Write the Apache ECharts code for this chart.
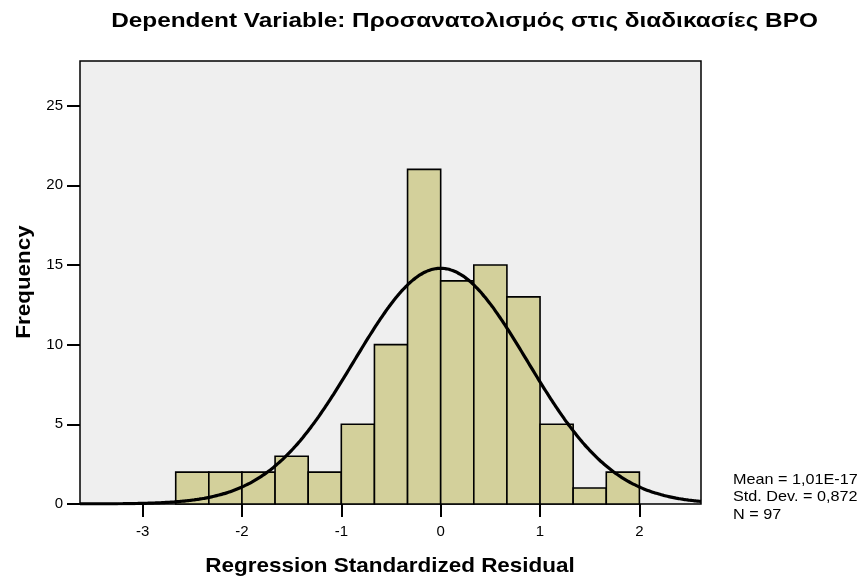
<!DOCTYPE html>
<html>
<head>
<meta charset="utf-8">
<script src="https://cdn.jsdelivr.net/npm/echarts@6/dist/echarts.min.js"></script>
<style>
  html, body { margin: 0; padding: 0; background: #fff; }
  #chart { width: 859px; height: 583px; }
</style>
</head>
<body>
<div id="chart"></div>
<script>
// Histogram bins of regression standardized residuals (width 1/3)
const binStart = [-8, -7, -6, -5, -4, -3, -2, -1, 0, 1, 2, 3, 4, 5]; // in thirds
const binCounts = [2, 2, 2, 3, 2, 5, 10, 21, 14, 15, 13, 5, 1, 2];
const binWidth = 1 / 3;

// Summary statistics shown beside the plot
const statMean = 1.01e-17;
const statStdDev = 0.872;
const statN = 97;
const statLines = ['Mean = 1,01E-17', 'Std. Dev. = 0,872', 'N = 97'];

// Axis ticks and texts
const xTicks = [-3, -2, -1, 0, 1, 2];
const yTicks = [0, 5, 10, 15, 20, 25];
const xMin = -3.63, xMax = 2.62;
const yMax = 27.8;
const titleText = 'Dependent Variable: Προσανατολισμός στις διαδικασίες BPO';
const xName = 'Regression Standardized Residual';
const yName = 'Frequency';

const bars = binStart.map((s, i) => [s * binWidth, (s + 1) * binWidth, binCounts[i]]);

// Fitted normal curve, scaled to frequency per bin
const curve = [];
const scale = statN * binWidth / (statStdDev * Math.sqrt(2 * Math.PI));
for (let k = 0; k <= 250; k++) {
  const x = xMin + (xMax - xMin) * k / 250;
  const z = (x - statMean) / statStdDev;
  curve.push([x, scale * Math.exp(-0.5 * z * z)]);
}

const font = 'Liberation Sans, Arial, sans-serif';
const boldFont = 'bold 21px ' + font;

function label(text, x, y, opts) {
  return Object.assign({
    type: 'text', x: x, y: y, silent: true,
    style: { text: text, x: 0, y: 0, font: boldFont, fill: '#000', align: 'center', verticalAlign: 'middle' }
  }, opts || {});
}

const statTexts = statLines.map((t, i) => ({
  type: 'text', x: 733, y: 480 + i * 17.3, scaleX: 1.08, silent: true,
  style: { text: t, x: 0, y: 0, font: '15px ' + font, fill: '#000', align: 'left', verticalAlign: 'middle' }
}));

const chart = echarts.init(document.getElementById('chart'), null, { renderer: 'canvas' });
chart.setOption({
  animation: false,
  backgroundColor: '#ffffff',
  graphic: [
    label(titleText, 464.5, 21.5, { scaleX: 1.16 }),
    label(xName, 390, 566.5, { scaleX: 1.07 }),
    label(yName, 24, 282, { scaleX: 1.067, rotation: Math.PI / 2 })
  ].concat(statTexts),
  grid: {
    left: 80, top: 61, width: 621, height: 443,
    show: true, backgroundColor: '#efefef', borderColor: '#000', borderWidth: 1.5
  },
  xAxis: {
    type: 'value', min: xMin, max: xMax,
    axisLine: { show: false, onZero: false },
    axisTick: { show: true, length: 13, lineStyle: { color: '#000', width: 2 }, customValues: xTicks },
    axisLabel: { fontFamily: font, fontSize: 15, color: '#000', margin: 20, customValues: xTicks },
    splitLine: { show: false }
  },
  yAxis: {
    type: 'value', min: 0, max: yMax,
    axisLine: { show: false, onZero: false },
    axisTick: { show: true, length: 13, lineStyle: { color: '#000', width: 2 }, customValues: yTicks },
    axisLabel: { fontFamily: font, fontSize: 15, color: '#000', margin: 17, customValues: yTicks },
    splitLine: { show: false }
  },
  series: [
    {
      type: 'custom',
      data: bars,
      encode: { x: [0, 1], y: 2 },
      renderItem: function (params, api) {
        const p0 = api.coord([api.value(0), api.value(2)]);
        const p1 = api.coord([api.value(1), 0]);
        return {
          type: 'rect',
          shape: { x: p0[0], y: p0[1], width: p1[0] - p0[0], height: p1[1] - p0[1] },
          style: { fill: '#d3d09b', stroke: '#000', lineWidth: 1.6 }
        };
      },
      z: 2
    },
    {
      type: 'line',
      data: curve,
      showSymbol: false,
      smooth: true,
      lineStyle: { color: '#000', width: 3.2 },
      z: 3
    }
  ]
});
</script>
</body>
</html>
